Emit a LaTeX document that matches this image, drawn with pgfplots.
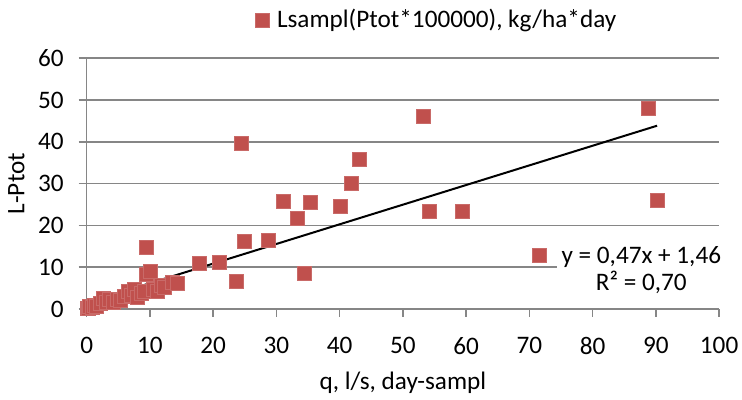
\documentclass[border=0pt]{standalone}
\usepackage{pgfplots}
\pgfplotsset{compat=1.18}
\usepackage{fontspec}
\setmainfont{Carlito}
\definecolor{ptred}{HTML}{C0504D}
\definecolor{gridgray}{HTML}{868686}

\begin{document}
\begin{tikzpicture}[font=\fontsize{12.6}{13.2}\selectfont]
% page frame, 742x400 px at 0.5pt per px
\path[use as bounding box] (-43.35pt,-45.5pt) rectangle (327.65pt,154.5pt);
\begin{axis}[
  at={(0,0)}, anchor=south west,
  scale only axis, width=316.2pt, height=125.4pt,
  xmin=0, xmax=100, ymin=0, ymax=60,
  xtick distance=10, ytick distance=10,
  axis x line=bottom, axis y line=left,
  axis line style={gridgray, line width=0.75pt, -},
  ymajorgrids, grid style={gridgray, line width=0.75pt},
  tick align=outside, major tick length=4pt,
  tick style={gridgray, line width=0.75pt},
  /pgf/number format/assume math mode=true,
  xticklabel style={yshift=-6.5pt},
  yticklabel style={xshift=-4pt},
  xlabel={q, l/s, day-sampl}, ylabel={L-Ptot},
  xlabel style={at={(axis description cs:0.5,-0.295)}, anchor=center},
  ylabel style={at={(axis description cs:-0.111,0.5)}, anchor=center},
  legend style={at={(axis description cs:0.555,1.152)}, anchor=center,
    draw=none, fill=none},
  clip=false,
]
\addplot[only marks, mark=square*, mark size=3.5pt,
  mark options={fill=ptred, draw=ptred!85!white, line width=0.5pt}]
  coordinates {
  (0.1,0.2) (0.3,0.1) (0.5,0.6) (0.9,0.3) (1.2,0.9) (1.6,0.5) (2.2,1.3)
  (2.6,2.6) (3.1,1.6) (3.6,2.2) (4.2,1.5) (4.8,2.3) (5.4,2.0) (6.0,2.9)
  (6.6,4.3) (7.1,3.2) (7.6,4.6) (8.1,2.8) (8.6,3.6) (9.2,4.1) (9.4,14.8)
  (9.5,8.2) (10.1,8.9) (10.6,4.6) (11.2,4.3) (11.8,5.6) (12.3,5.1)
  (13.5,6.4) (14.3,6.2)
  (17.8,10.8) (21.0,11.2) (23.7,6.6) (24.5,39.6) (25.0,16.1) (28.7,16.4)
  (31.1,25.7) (33.4,21.6) (34.4,8.6) (35.4,25.4) (40.1,24.5) (41.8,30.1)
  (43.1,35.7)
  (53.2,46.1) (54.2,23.3) (59.4,23.3) (71.6,12.8) (88.8,48.0) (90.2,25.9)
  };
\addlegendentry{\hspace{2pt}Lsampl(Ptot*100000), kg/ha*day}
% linear trend line
\addplot[black, line width=1pt, forget plot] coordinates {(0.1,1.51) (90.2,43.85)};
\node[fill=white, align=center, inner sep=2.2pt] at (axis cs:87.7,9.3)
  {y = 0,47x + 1,46\\R² = 0,70};
\end{axis}
\end{tikzpicture}
\end{document}
